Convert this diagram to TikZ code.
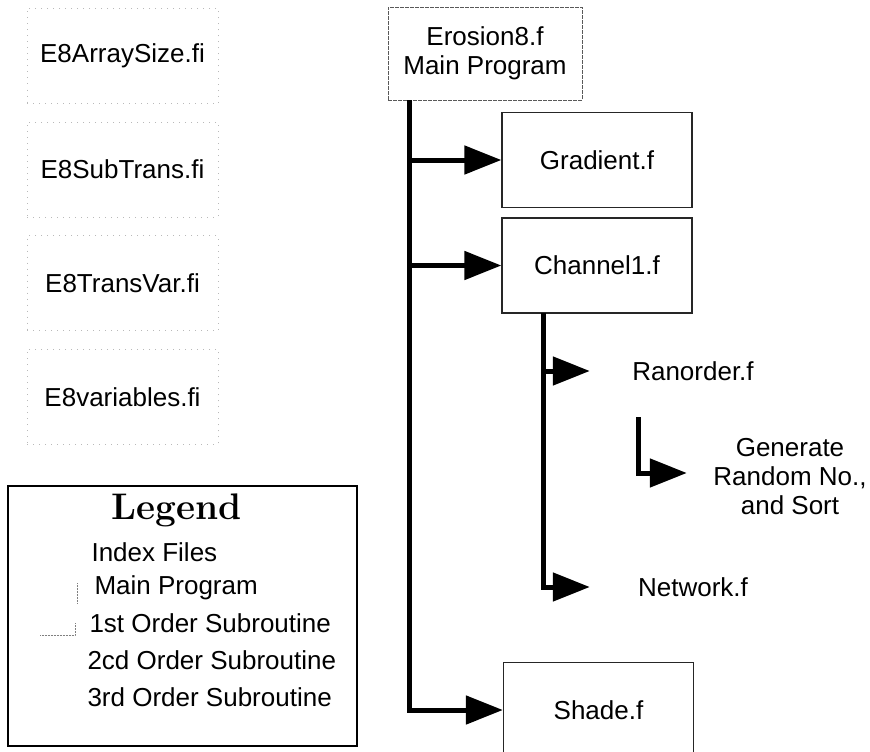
\documentclass[tikz,border=0pt]{standalone}
\usepackage{fontspec}
\newfontfamily\arial{Liberation Sans}
\usetikzlibrary{positioning, arrows.meta}

\begin{document}
\begin{tikzpicture}[x=1pt, y=-1pt, font=\arial\fontsize{26}{29}\selectfont,
    index/.style = {draw=gray!55, line width=0.6pt, dash pattern=on 1pt off 5pt, minimum width=191pt, minimum height=95pt},
    mainprog/.style = {draw=black!65, line width=0.8pt, dash pattern=on 4pt off 1pt, minimum width=194pt, minimum height=93pt, align=center},
    sub1/.style = {draw=black!85, line width=1.3pt, minimum width=190pt, minimum height=95pt},
    sub2/.style = {minimum width=206pt, align=center},
    call/.style = {line width=5pt, -{Triangle[length=37pt, width=28pt]}}]
    \useasboundingbox (0,0) rectangle (870,752);

    % include files
    \node[index] (e1) at (122.5,56) {E8ArraySize.fi};
    \node[index] (e2) [below=18pt of e1] {E8SubTrans.fi};
    \node[index] (e3) [below=18pt of e2] {E8TransVar.fi};
    \node[index] (e4) [below=18pt of e3] {E8variables.fi};

    % call tree
    \node[mainprog] (main) at (485,53.5) {Erosion8.f\\Main Program};
    \node[sub1] (grad) at (597,160) {Gradient.f};
    \node[sub1] (chan) at (597,265.5) {Channel1.f};
    \node[sub1] (shade) at (598.5,710) {Shade.f};
    \node[sub2] (ran) at (693,371) {Ranorder.f};
    \node[sub2] (net) at (693,587) {Network.f};
    \node[sub2] (gen) at (790,477) {Generate\\Random No.,\\and Sort};

    \coordinate (trunk) at (409,100);
    \coordinate (fork) at (543,313);
    \coordinate (rng) at (638,417);

    \draw[call] (trunk) |- (shade.west);
    \draw[call] (trunk |- grad.west) -- (grad.west);
    \draw[call] (trunk |- chan.west) -- (chan.west);
    \draw[call] (fork) |- (net.west);
    \draw[call] (fork |- ran.west) -- (ran.west);
    \draw[call] (rng) |- ([yshift=4pt]gen.west);

    % legend
    \node[draw, line width=1.8pt, minimum width=349pt, minimum height=260pt] (legend) at (182.5,616) {};
    \node[font=\rmfamily\bfseries\fontsize{37}{40}\selectfont] (title) at (177,510) {Legend};
    \node[anchor=west] (l1) at (88,552) {Index Files};
    \node[anchor=west] (l2) at (91,588) {Main Program};
    \node[anchor=west] (l3) at (86,623) {1st Order Subroutine};
    \node[anchor=west] (l4) at (84,660) {2cd Order Subroutine};
    \node[anchor=west] (l5) at (84,697) {3rd Order Subroutine};
    \draw[gray, densely dotted, line width=0.5pt] (77,583) -- (77,603);
    \draw[gray, densely dotted, line width=0.5pt] (40,635) -- (75,635) -- (75,623);
\end{tikzpicture}
\end{document}
